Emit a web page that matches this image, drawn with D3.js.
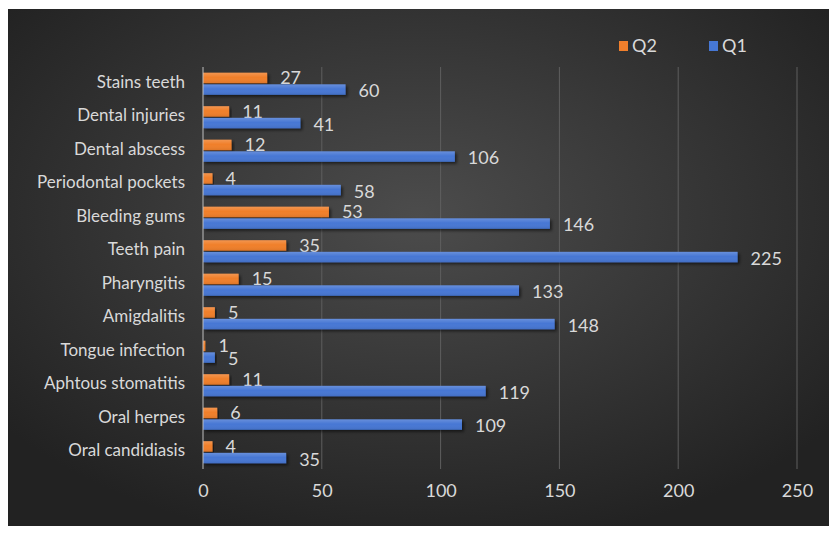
<!DOCTYPE html>
<html>
<head>
<meta charset="utf-8">
<script src="https://cdn.jsdelivr.net/npm/d3@7"></script>
<style>
  body { margin: 0; background: #fff; }
  text { font-family: Lato, "DejaVu Sans Condensed", "Open Sans", sans-serif; fill: #d9d9d9; }
</style>
</head>
<body>
<div id="chart"></div>
<script>
var width = 829, height = 533;

// categories from top to bottom
var categories = ["Stains teeth", "Dental injuries", "Dental abscess", "Periodontal pockets",
    "Bleeding gums", "Teeth pain", "Pharyngitis", "Amigdalitis", "Tongue infection",
    "Aphtous stomatitis", "Oral herpes", "Oral candidiasis"];
var q1 = [60, 41, 106, 58, 146, 225, 133, 148, 5, 119, 109, 35];
var q2 = [27, 11, 12, 4, 53, 35, 15, 5, 1, 11, 6, 4];
var xTicks = [0, 50, 100, 150, 200, 250];
var seriesNames = ["Q2", "Q1"];
var seriesColors = { Q2: "#f07f2c", Q1: "#4677d4" };

var plot = { left: 203, right: 797, top: 67, bottom: 469 };
var LABEL_SIZE = "17px";
var NUMBER_SIZE = "18px";

var svg = d3.select("#chart").append("svg")
    .attr("width", width)
    .attr("height", height);

var defs = svg.append("defs");
var grad = defs.append("radialGradient")
    .attr("id", "bg")
    .attr("cx", "50%").attr("cy", "40%").attr("r", "65%");
grad.append("stop").attr("offset", "0%").attr("stop-color", "#4c4c4c");
grad.append("stop").attr("offset", "100%").attr("stop-color", "#222222");

var shadow = defs.append("filter").attr("id", "shadow")
    .attr("x", "-5%").attr("y", "-30%").attr("width", "115%").attr("height", "180%");
shadow.append("feDropShadow")
    .attr("dx", 2).attr("dy", 2).attr("stdDeviation", 1.5)
    .attr("flood-color", "#000").attr("flood-opacity", 0.55);

// bar sheen: a lighter top edge
var sheen = defs.append("linearGradient")
    .attr("id", "sheen").attr("x1", 0).attr("x2", 0).attr("y1", 0).attr("y2", 1);
sheen.append("stop").attr("offset", "0%").attr("stop-color", "#fff").attr("stop-opacity", 0.18);
sheen.append("stop").attr("offset", "45%").attr("stop-color", "#fff").attr("stop-opacity", 0);
sheen.append("stop").attr("offset", "100%").attr("stop-color", "#000").attr("stop-opacity", 0.08);

svg.append("rect")
    .attr("x", 8).attr("y", 9)
    .attr("width", width - 8).attr("height", 517)
    .attr("fill", "url(#bg)");

var x = d3.scaleLinear().domain([0, 250]).range([plot.left, plot.right]);
var y = d3.scaleBand().domain(categories).range([plot.top, plot.bottom]).paddingInner(0.34).paddingOuter(0.17);
var ySub = d3.scaleBand().domain(seriesNames).range([0, y.bandwidth()]).paddingInner(0.1);

// gridlines
svg.append("g").selectAll("line")
    .data(xTicks.slice(1))
    .enter().append("line")
    .attr("x1", function (d) { return x(d); })
    .attr("x2", function (d) { return x(d); })
    .attr("y1", plot.top)
    .attr("y2", plot.bottom)
    .attr("stroke", "#5e5e5e")
    .attr("stroke-width", 1);

// x axis tick labels
var xAxis = d3.axisBottom(x).tickValues(xTicks).tickSize(0).tickPadding(0);
var gx = svg.append("g")
    .attr("transform", "translate(0," + 491 + ")")
    .call(xAxis);
gx.select(".domain").remove();
gx.attr("font-family", null);
gx.selectAll("text")
    .attr("dy", "0.35em")
    .style("font-size", NUMBER_SIZE)
    .style("fill", "#d9d9d9");

// category labels
var gy = svg.append("g")
    .attr("transform", "translate(" + (plot.left - 18) + ",0)")
    .call(d3.axisLeft(y).tickSize(0).tickPadding(0));
gy.select(".domain").remove();
gy.attr("font-family", null);
gy.selectAll("text")
    .attr("dy", "0.22em")
    .style("font-size", LABEL_SIZE)
    .style("fill", "#d9d9d9");

var rows = categories.map(function (c, i) {
    return { cat: c, Q2: q2[i], Q1: q1[i] };
});

seriesNames.forEach(function (s) {
    var g = svg.append("g");
    g.selectAll("rect.bar")
        .data(rows)
        .enter().append("rect")
        .attr("class", "bar")
        .attr("x", x(0))
        .attr("y", function (d) { return y(d.cat) + ySub(s); })
        .attr("width", function (d) { return x(d[s]) - x(0); })
        .attr("height", ySub.bandwidth())
        .attr("fill", seriesColors[s])
        .attr("filter", "url(#shadow)");
    g.selectAll("rect.sheen")
        .data(rows)
        .enter().append("rect")
        .attr("class", "sheen")
        .attr("x", x(0))
        .attr("y", function (d) { return y(d.cat) + ySub(s); })
        .attr("width", function (d) { return x(d[s]) - x(0); })
        .attr("height", ySub.bandwidth())
        .attr("fill", "url(#sheen)");
    g.selectAll("text")
        .data(rows)
        .enter().append("text")
        .text(function (d) { return d[s]; })
        .attr("x", function (d) { return x(d[s]) + 13; })
        .attr("y", function (d) { return y(d.cat) + ySub(s) + ySub.bandwidth() / 2 + (s == "Q1" ? 1.5 : 0); })
        .attr("dy", "0.35em")
        .style("font-size", NUMBER_SIZE);
});

// axis line at zero
svg.append("line")
    .attr("x1", x(0)).attr("x2", x(0))
    .attr("y1", plot.top).attr("y2", plot.bottom)
    .attr("stroke", "#bfbfbf")
    .attr("stroke-width", 1);

// legend
var legendX = [619, 709];
seriesNames.forEach(function (s, i) {
    var lg = svg.append("g").attr("transform", "translate(" + legendX[i] + ",41)");
    lg.append("rect")
        .attr("width", 9).attr("height", 10)
        .attr("fill", seriesColors[s]);
    lg.append("text")
        .text(s)
        .attr("x", 13).attr("y", 5)
        .attr("dy", "0.35em")
        .style("font-size", NUMBER_SIZE);
});
</script>
</body>
</html>
